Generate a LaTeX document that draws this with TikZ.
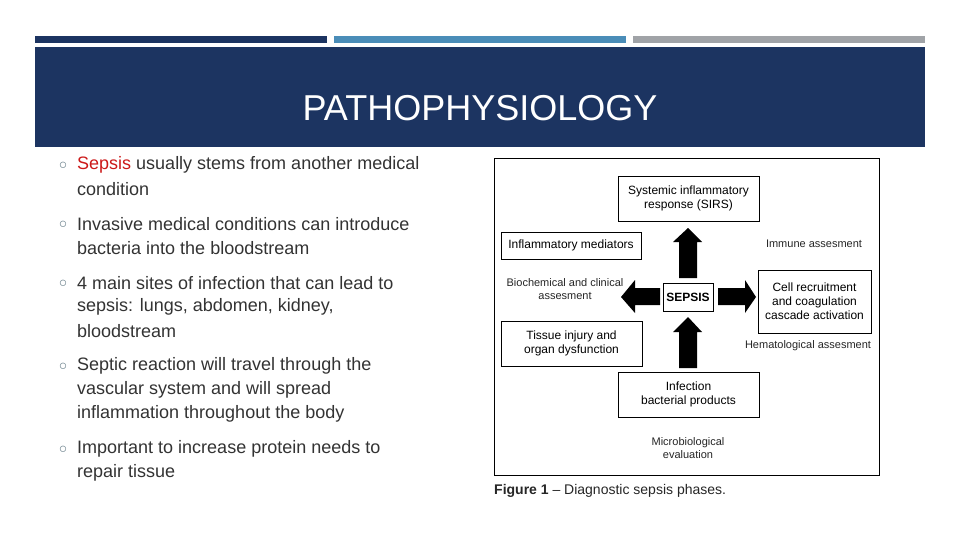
\documentclass[tikz,border=0pt]{standalone}
\usepackage{fontspec}
\setmainfont{Liberation Sans}
\begin{document}
\begin{tikzpicture}[x=1pt,y=-1pt,
  bul/.style={anchor=west,text=black!80,font=\fontsize{18}{21}\selectfont,inner sep=0pt},
  bm/.style={anchor=center,text=black!55!cyan!60!gray,font=\fontsize{14}{14}\selectfont,inner sep=0pt},
  fbox/.style={draw=black,line width=0.9pt,align=center,inner sep=0pt,font=\fontsize{12}{14}\selectfont},
  ftxt/.style={align=center,inner sep=0pt,font=\fontsize{11}{13}\selectfont,text=black!85},
  fat/.style={fill=black}]
\useasboundingbox (0,0) rectangle (960,540);
\fill[white] (0,0) rectangle (960,540);
\fill[fill={rgb,255:red,28;green,52;blue,97}] (35,36) rectangle (327,43);
\fill[fill={rgb,255:red,74;green,141;blue,184}] (334,36) rectangle (626,43);
\fill[fill={rgb,255:red,160;green,163;blue,167}] (633,36) rectangle (925,43);
\fill[fill={rgb,255:red,28;green,52;blue,97}] (35,47) rectangle (925,147);
\node[text=white,font=\fontsize{36}{36}\selectfont] (title) at (480,108) {PATHOPHYSIOLOGY};
% bullets
\foreach \y in {165,224,283,366,449} \node[bm] at (63,\y+1) {○};
\node[bul] (b1a) at (77,165) {\textcolor[rgb]{0.8,0.1,0.1}{Sepsis} usually stems from another medical};
\node[bul] (b1b) at (77,189) {condition};
\node[bul] (b2a) at (77,224) {Invasive medical conditions can introduce};
\node[bul] (b2b) at (77,248) {bacteria into the bloodstream};
\node[bul] (b3a) at (77,283) {4 main sites of infection that can lead to};
\node[bul] (b3b) at (77,307) {sepsis: lungs, abdomen, kidney,};
\node[bul] (b3c) at (77,331) {bloodstream};
\node[bul] (b4a) at (77,366) {Septic reaction will travel through the};
\node[bul] (b4b) at (77,390) {vascular system and will spread};
\node[bul] (b4c) at (77,414) {inflammation throughout the body};
\node[bul] (b5a) at (77,449) {Important to increase protein needs to};
\node[bul] (b5b) at (77,473) {repair tissue};
% figure
\draw[line width=1pt] (494,159) rectangle (879,475);
\node[fbox,minimum width=141pt,minimum height=45pt] (sirs) at (688.5,198.5) {Systemic inflammatory\\response (SIRS)};
\node[fbox,minimum width=140pt,minimum height=27pt] (med) at (571,245.5) {Inflammatory mediators};
\node[fbox,minimum width=50pt,minimum height=28pt,font=\bfseries\fontsize{12}{14}\selectfont] (sep) at (688,297) {SEPSIS};
\node[fbox,minimum width=113pt,minimum height=63pt] (cell) at (814.5,301.5) {Cell recruitment\\and coagulation\\cascade activation};
\node[fbox,minimum width=141pt,minimum height=45pt] (tis) at (571.5,343.5) {Tissue injury and\\organ dysfunction};
\node[fbox,minimum width=141pt,minimum height=45pt] (inf) at (688.5,394.5) {Infection\\bacterial products};
\fill[fat] (679,278) -- (679,242) -- (673,242) -- (688,228) -- (702,242) -- (697,242) -- (697,278) -- cycle;
\fill[fat] (679,368) -- (679,332) -- (673,332) -- (688,317) -- (702,332) -- (697,332) -- (697,368) -- cycle;
\fill[fat] (660,288) -- (635,288) -- (635,280) -- (621,297) -- (635,313) -- (635,305) -- (660,305) -- cycle;
\fill[fat] (718,288) -- (745,288) -- (745,280) -- (756,297) -- (745,313) -- (745,305) -- (718,305) -- cycle;
\node[ftxt] (imm) at (814,244) {Immune assesment};
\node[ftxt] (bio) at (565,289) {Biochemical and clinical\\assesment};
\node[ftxt] (hem) at (808,346) {Hematological assesment};
\node[ftxt] (mic) at (688,448.5) {Microbiological\\evaluation};
\node[anchor=west,inner sep=0pt,font=\fontsize{14}{14}\selectfont,text=black!85] (cap) at (494,491) {\textbf{Figure 1} -- Diagnostic sepsis phases.};
\end{tikzpicture}
\end{document}
